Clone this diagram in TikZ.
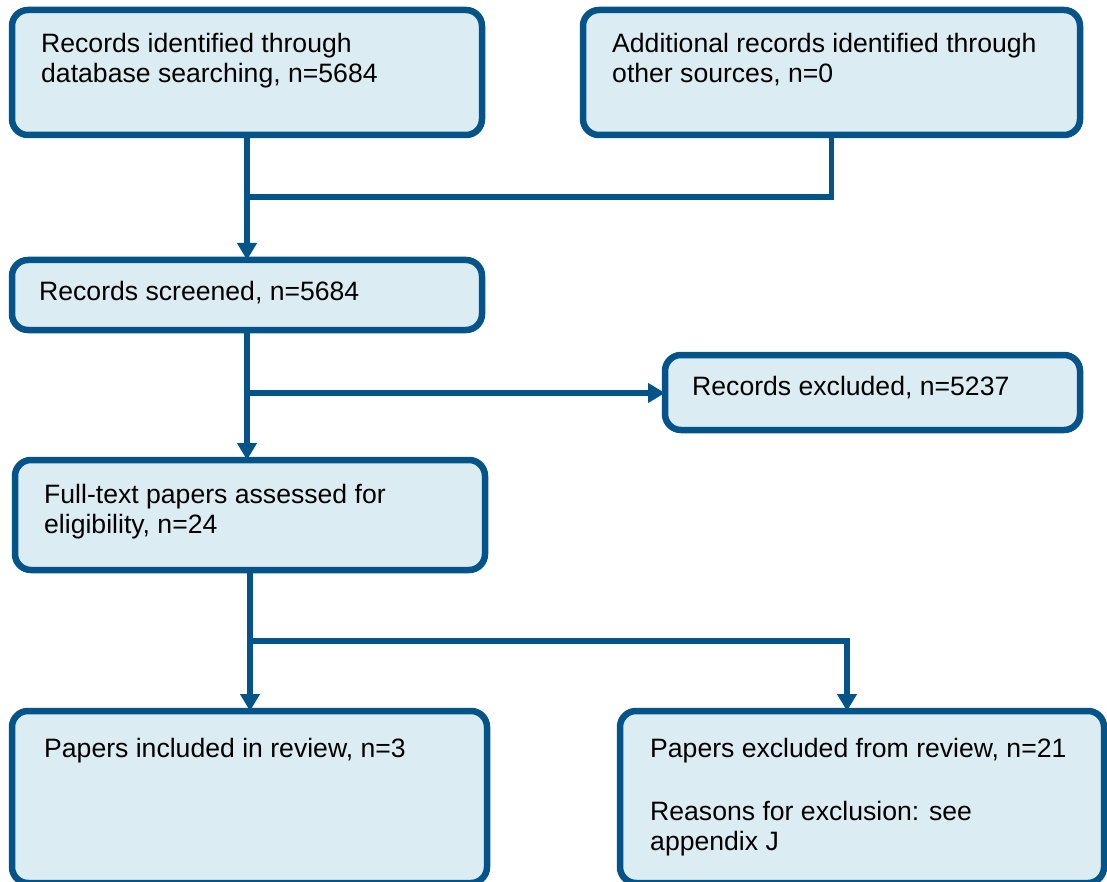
\documentclass[tikz,border=0pt]{standalone}
\usepackage{fontspec}
\setmainfont{Liberation Sans}
\usetikzlibrary{arrows.meta}
\definecolor{bord}{HTML}{04548A}
\definecolor{boxfill}{HTML}{DBEDF3}
\tikzset{
  box/.style={draw=bord, fill=boxfill, line width=6.5pt, rounded corners=16pt,
    rectangle, outer sep=0pt, inner sep=0pt, anchor=north west},
  txt/.style={font=\fontsize{26.6}{30}\selectfont, align=left, inner sep=0pt,
    anchor=base west, text=black},
  conn/.style={draw=bord, line width=5.5pt, line join=miter},
  arr/.style={conn, -{Triangle[length=17pt,width=19pt]}}
}
\begin{document}
\begin{tikzpicture}[x=1pt,y=-1pt]
\useasboundingbox (0,0) rectangle (1107,882);
% boxes
\node[box, minimum width=470pt, minimum height=125pt] (b1) at (12,10) {};
\node[box, minimum width=497pt, minimum height=125pt] (b2) at (583,10) {};
\node[box, minimum width=470pt, minimum height=70pt] (b3) at (12,260) {};
\node[box, minimum width=415pt, minimum height=75pt] (b4) at (665,355) {};
\node[box, minimum width=470pt, minimum height=110pt] (b5) at (15,460) {};
\node[box, minimum width=475pt, minimum height=172pt] (b6) at (12,711) {};
\node[box, minimum width=484pt, minimum height=172pt] (b7) at (620,711) {};
% texts (base anchor = baseline of last line)
\node[txt] (t1) at (41,83) {Records identified through\\database searching, n=5684};
\node[txt] (t2) at (612,83) {Additional records identified through\\other sources, n=0};
\node[txt] (t3) at (39,301) {Records screened, n=5684};
\node[txt] (t4) at (692,395) {Records excluded, n=5237};
\node[txt] (t5) at (44,533) {Full-text papers assessed for\\eligibility, n=24};
\node[txt] (t6) at (44,757) {Papers included in review, n=3};
\node[txt] (t7) at (650,757) {Papers excluded from review, n=21};
\node[txt] (t8) at (650,850) {Reasons for exclusion: see\\appendix J};
% connectors
\coordinate (j1) at (247,197);
\coordinate (j2) at (247,393);
\coordinate (j3) at (250,641);
\coordinate (j4) at (847,641);
\draw[arr] (b1.south -| j1) -- (b3.north -| j1);
\draw[conn] (b2.south) |- (j1);
\draw[arr] (b3.south -| j2) -- (b5.north -| j2);
\draw[arr] (j2) -- (b4.west |- j2);
\draw[arr] (b5.south -| j3) -- (b6.north -| j3);
\draw[arr] (j3) -- (j4) -- (b7.north -| j4);
\end{tikzpicture}
\end{document}
